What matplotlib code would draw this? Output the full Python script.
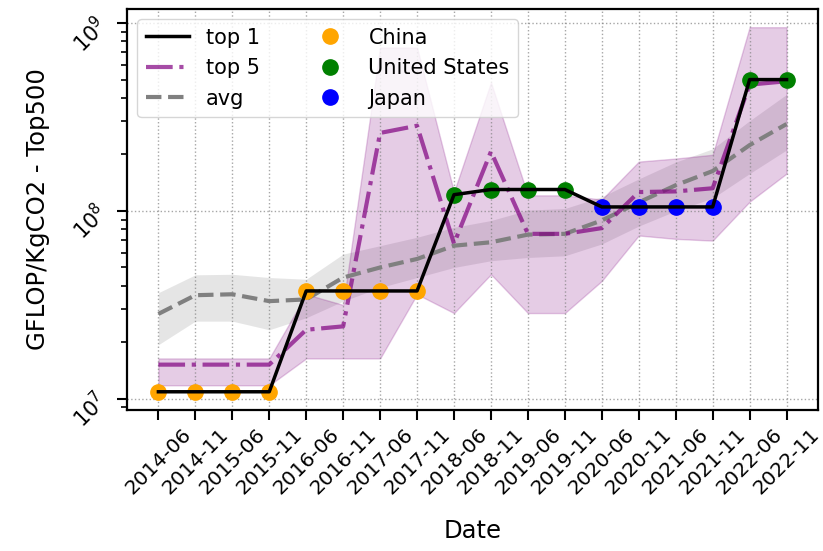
import numpy as np
import matplotlib
matplotlib.use("Agg")
import matplotlib.pyplot as plt
import matplotlib.transforms as mtransforms

# Top500 carbon efficiency, one value per list release
dates = ['2014-06', '2014-11', '2015-06', '2015-11', '2016-06', '2016-11',
         '2017-06', '2017-11', '2018-06', '2018-11', '2019-06', '2019-11',
         '2020-06', '2020-11', '2021-06', '2021-11', '2022-06', '2022-11']

top1 = [1.09e7, 1.09e7, 1.09e7, 1.09e7, 3.75e7, 3.75e7, 3.75e7, 3.75e7,
        1.22e8, 1.30e8, 1.30e8, 1.30e8, 1.05e8, 1.05e8, 1.05e8, 1.05e8,
        5.0e8, 5.0e8]
top1_country = ['China'] * 8 + ['United States'] * 4 + ['Japan'] * 4 + ['United States'] * 2

top5 = [1.52e7, 1.52e7, 1.52e7, 1.52e7, 2.33e7, 2.43e7, 2.6e8, 2.84e8,
        6.7e7, 2.07e8, 7.55e7, 7.55e7, 8.1e7, 1.26e8, 1.27e8, 1.32e8,
        4.7e8, 4.9e8]
top5_lo = [1.18e7, 1.18e7, 1.18e7, 1.18e7, 1.64e7, 1.64e7, 1.64e7, 3.6e7,
           2.86e7, 4.6e7, 2.86e7, 2.86e7, 4.24e7, 7.4e7, 7.1e7, 6.95e7,
           1.12e8, 1.58e8]
top5_hi = [1.64e7, 1.64e7, 1.64e7, 1.64e7, 3.6e7, 3.16e7, 7.4e8, 7.4e8,
           1.26e8, 4.83e8, 1.21e8, 1.21e8, 1.15e8, 1.83e8, 1.9e8, 1.99e8,
           9.5e8, 9.5e8]

avg = [2.83e7, 3.56e7, 3.6e7, 3.31e7, 3.38e7, 4.42e7, 5.0e7, 5.55e7,
       6.53e7, 6.81e7, 7.48e7, 7.55e7, 8.9e7, 1.11e8, 1.37e8, 1.63e8,
       2.24e8, 2.9e8]
avg_lo = [1.94e7, 2.59e7, 2.59e7, 2.33e7, 2.7e7, 3.31e7, 3.91e7, 4.42e7,
          5.0e7, 5.43e7, 5.65e7, 5.77e7, 6.67e7, 8.3e7, 1.0e8, 1.17e8,
          1.58e8, 2.11e8]
avg_hi = [3.67e7, 4.57e7, 4.6e7, 4.42e7, 4.33e7, 5.89e7, 6.53e7, 7.24e7,
          8.18e7, 8.89e7, 1.01e8, 1.03e8, 1.19e8, 1.48e8, 1.82e8, 2.14e8,
          3.02e8, 4.17e8]

country_colors = {'China': 'orange', 'United States': 'green', 'Japan': 'blue'}

x = np.arange(len(dates))

fig = plt.figure(figsize=(8.23, 5.51), dpi=100)
ax = fig.add_axes([0.1543, 0.2559, 0.8396, 0.7278])

ax.fill_between(x, avg_lo, avg_hi, color='gray', alpha=0.2, linewidth=0)
ax.fill_between(x, top5_lo, top5_hi, color='purple', alpha=0.2)

l_avg, = ax.plot(x, avg, '--', color='gray', lw=3, label='avg')
l_top5, = ax.plot(x, top5, '-.', color='purple', alpha=0.7, lw=3, label='top 5')

handles = []
for c in ['China', 'United States', 'Japan']:
    idx = [i for i, cc in enumerate(top1_country) if cc == c]
    h, = ax.plot(x[idx], np.array(top1)[idx], 'o', color=country_colors[c],
                 ms=11, ls='none', label=c, zorder=3)
    handles.append(h)

l_top1, = ax.plot(x, top1, '-', color='black', lw=2.5, label='top 1', zorder=4)

ax.set_yscale('log')
ax.set_xticks(x)
ax.set_xticklabels(dates, rotation=45, fontsize=14.5)
# nudge the rotated date labels a little to the left
shift = mtransforms.ScaledTranslation(-5 / 100, 0, fig.dpi_scale_trans)
for lab in ax.get_xticklabels():
    lab.set_transform(lab.get_transform() + shift)
ax.tick_params(axis='y', labelrotation=45, labelsize=15)
ax.tick_params(which='major', length=7, width=1.5)
ax.tick_params(which='minor', length=4, width=1.2)
for s in ax.spines.values():
    s.set_linewidth(1.6)

ax.grid(True, which='major', linestyle=':', color='gray', alpha=0.7, lw=1)

ax.set_xlabel('Date', fontsize=17.5, labelpad=15)
ax.set_ylabel('GFLOP/KgCO2 - Top500', fontsize=17.5, labelpad=13)

ax.legend([l_top1, l_top5, l_avg] + handles,
          ['top 1', 'top 5', 'avg', 'China', 'United States', 'Japan'],
          loc='upper left', ncol=2, fontsize=15, handlelength=2.1,
          columnspacing=2.3, borderaxespad=0.5)

fig.savefig('out.png', dpi=100)
